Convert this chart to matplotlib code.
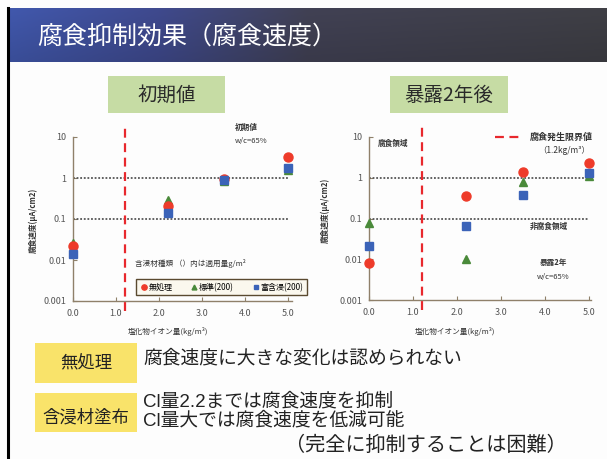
import numpy as np
import matplotlib
matplotlib.use('Agg')
import matplotlib.pyplot as plt
from matplotlib.patches import Rectangle
from matplotlib.lines import Line2D
from matplotlib.ticker import NullLocator, FixedLocator, FixedFormatter

plt.rcParams['font.family'] = ['Noto Sans CJK JP', 'DejaVu Sans']

W, H = 607, 459

# ---------------- data ----------------
x_levels = [0.0, 2.2, 3.5, 5.0]
init_none = [0.022, 0.21, 0.95, 3.2]
init_std = [0.026, 0.29, 0.85, 1.6]
init_rich = [0.014, 0.14, 0.88, 1.75]
exp_none = [0.008, 0.36, 1.4, 2.3]
exp_std = [0.078, 0.010, 0.8, 1.1]
exp_rich = [0.021, 0.066, 0.38, 1.3]
threshold_cl = 1.2
ref_levels = [1, 0.1]
xticks = [0.0, 1.0, 2.0, 3.0, 4.0, 5.0]
xtick_labels = ['0.0', '1.0', '2.0', '3.0', '4.0', '5.0']
yticks = [0.001, 0.01, 0.1, 1, 10]
ytick_labels = ['0.001', '0.01', '0.1', '1', '10']
series_names = ['無処理', '標準(200)', '富含浸(200)']

RED = '#ee3b2a'
GREEN = '#4a8a3a'
BLUE = '#3b63b8'
SPINE = '#8f806a'
LATIN_CJK = ['Liberation Sans', 'Noto Sans CJK JP']

fig = plt.figure(figsize=(W / 100, H / 100), dpi=100)
fig.patch.set_facecolor('#fdfdfd')


def fx(x):
    return x / W


def fy(y):
    return 1 - y / H


def axes_px(l, t, r, b, **kw):
    return fig.add_axes([l / W, 1 - b / H, (r - l) / W, (b - t) / H], **kw)


def ftext(x, y, s, **kw):
    fig.text(fx(x), fy(y), s, **kw)


# ---------------- title bar ----------------
tax = axes_px(8, 8, 607, 62)
n = 400
pos = np.linspace(0, 1, n)
cl = np.array([[62, 84, 165], [60, 70, 135], [62, 62, 80], [60, 60, 66]]) / 255
cp = [0, 0.25, 0.5, 1]
grad = np.stack([np.interp(pos, cp, cl[:, i]) for i in range(3)], axis=-1)
rows = 30
shade = np.linspace(1.05, 0.92, rows)[:, None, None]
img = np.clip(grad[None, :, :] * shade, 0, 1)
tax.imshow(img, aspect='auto', extent=[0, 1, 0, 1])
tax.set_axis_off()
ftext(37, 37, '腐食抑制効果（腐食速度）', color='white', fontsize=18, va='center', ha='left')

# left border
fig.add_artist(Line2D([fx(8), fx(8)], [fy(8), 0], color='black', lw=2.2))

# ---------------- header boxes ----------------
for (l, t, r, b, s) in [(108, 76, 225, 113, '初期値'), (390, 76, 508, 113, '暴露2年後')]:
    fig.add_artist(Rectangle((fx(l), fy(b)), (r - l) / W, (b - t) / H,
                             transform=fig.transFigure, facecolor='#c6dca4', edgecolor='none'))
    ftext((l + r) / 2, (t + b) / 2 + 1, s, fontsize=14, ha='center', va='center', color='#2a2a2a')


# ---------------- charts ----------------
def make_chart(l, x5, top, bottom, xmax, none, std, rich):
    r = l + (x5 - l) * xmax / 5.0
    ax = axes_px(l, top, r, bottom)
    ax.set_facecolor('none')
    ax.set_yscale('log')
    ax.set_xlim(0, xmax)
    ax.set_ylim(yticks[0], yticks[-1])
    for s in ['top', 'right']:
        ax.spines[s].set_visible(False)
    for s in ['left', 'bottom']:
        ax.spines[s].set_color(SPINE)
        ax.spines[s].set_linewidth(1.0)
    ax.yaxis.set_major_locator(FixedLocator(yticks))
    ax.yaxis.set_major_formatter(FixedFormatter(ytick_labels))
    ax.yaxis.set_minor_locator(NullLocator())
    ax.set_xticks(xticks)
    ax.set_xticklabels(xtick_labels)
    ax.tick_params(direction='in', length=3, color=SPINE, labelsize=6.5, labelcolor='#555555')
    ax.tick_params(axis='x', pad=6)
    ax.tick_params(axis='y', pad=5)
    ax.hlines(ref_levels, 0, xticks[-1], colors='#555555', linestyles=(0, (1, 1)), lw=1.3, zorder=2)
    ax.axvline(threshold_cl, ymin=-0.06, ymax=1.06, clip_on=False, color='#e8282d',
               ls=(0, (4, 2.5)), lw=1.6, zorder=3)
    ax.plot(x_levels, std, '^', color=GREEN, ms=6, clip_on=False, zorder=4)
    ax.plot(x_levels, none, 'o', color=RED, ms=6.5, clip_on=False, zorder=5)
    ax.plot(x_levels, rich, 's', color=BLUE, ms=6, clip_on=False, zorder=6)
    return ax


axL = make_chart(73, 288, 137, 301, 5.1, init_none, init_std, init_rich)
axR = make_chart(369, 589, 137, 300, 5.05, exp_none, exp_std, exp_rich)

# left legend
handles = [Line2D([], [], marker='o', color=RED, ls='none', ms=3.8),
           Line2D([], [], marker='^', color=GREEN, ls='none', ms=3.5),
           Line2D([], [], marker='s', color=BLUE, ls='none', ms=3.5)]
leg = axL.legend(handles, series_names, ncol=3, loc='upper left',
                 bbox_to_anchor=(fx(132), fy(275)), bbox_transform=fig.transFigure,
                 fontsize=5.8, handletextpad=0.1, columnspacing=2.2, borderpad=0.45,
                 handlelength=1.0, fancybox=False, framealpha=1)
leg.get_frame().set_edgecolor('#5a4a30')
leg.get_frame().set_facecolor('#fbf8ee')
leg.get_frame().set_linewidth(1.0)
ftext(135, 263, '含浸材種類 （）内は適用量g/m²', fontsize=5.5, va='center', color='#333333')

ftext(235, 127, '初期値', fontsize=5.5, va='center', color='#333333', fontweight='bold')
ftext(235, 141, 'w/c=65%', fontsize=5.5, va='center', color='#333333')

# right annotations
fig.add_artist(Line2D([fx(495), fx(523)], [fy(137), fy(137)], color='#e8282d',
                      ls=(0, (4, 2.5)), lw=1.6))
ftext(530, 137, '腐食発生限界値', fontsize=6.5, va='center', color='#333333', fontweight='bold')
ftext(538, 150, '（1.2kg/m³）', fontsize=6, va='center', color='#333333')
ftext(378, 143, '腐食領域', fontsize=5.5, va='center', color='#333333', fontweight='bold')
ftext(530, 226, '非腐食領域', fontsize=5.5, va='center', color='#333333', fontweight='bold')
ftext(553, 263, '暴露2年', fontsize=5.5, va='center', ha='center', color='#333333', fontweight='bold')
ftext(553, 277, 'w/c=65%', fontsize=5.5, va='center', ha='center', color='#333333')

# axis labels
ftext(33, 220, '腐食速度(μA/cm2)', fontsize=5.5, rotation=90, ha='center', va='center',
      color='#333333', fontweight='bold')
ftext(325, 210, '腐食速度(μA/cm2)', fontsize=5.5, rotation=90, ha='center', va='center',
      color='#333333', fontweight='bold')
ftext(168, 331, '塩化物イオン量(kg/m³)', fontsize=5.5, ha='center', va='center', color='#333333')
ftext(455, 331, '塩化物イオン量(kg/m³)', fontsize=5.5, ha='center', va='center', color='#333333')

# ---------------- bottom summary ----------------
for (t, b, s, ty) in [(343, 383, '無処理', 363), (393, 432, '含浸材塗布', 418)]:
    fig.add_artist(Rectangle((fx(35), fy(b)), 102 / W, (b - t) / H,
                             transform=fig.transFigure, facecolor='#f9e36a', edgecolor='none'))
    ftext(86, ty, s, fontsize=12.5, ha='center', va='center', color='#222222')

ftext(143, 358, '腐食速度に大きな変化は認められない', fontsize=13.5, va='center', color='#222222')
ftext(143, 402, 'Cl量2.2までは腐食速度を抑制', fontsize=13.5, va='center', color='#222222',
      family=LATIN_CJK)
ftext(143, 421, 'Cl量大では腐食速度を低減可能', fontsize=13.5, va='center', color='#222222',
      family=LATIN_CJK)
ftext(285, 445, '（完全に抑制することは困難）', fontsize=14.5, va='center', ha='left', color='#222222')

fig.savefig('out.png', dpi=100)
